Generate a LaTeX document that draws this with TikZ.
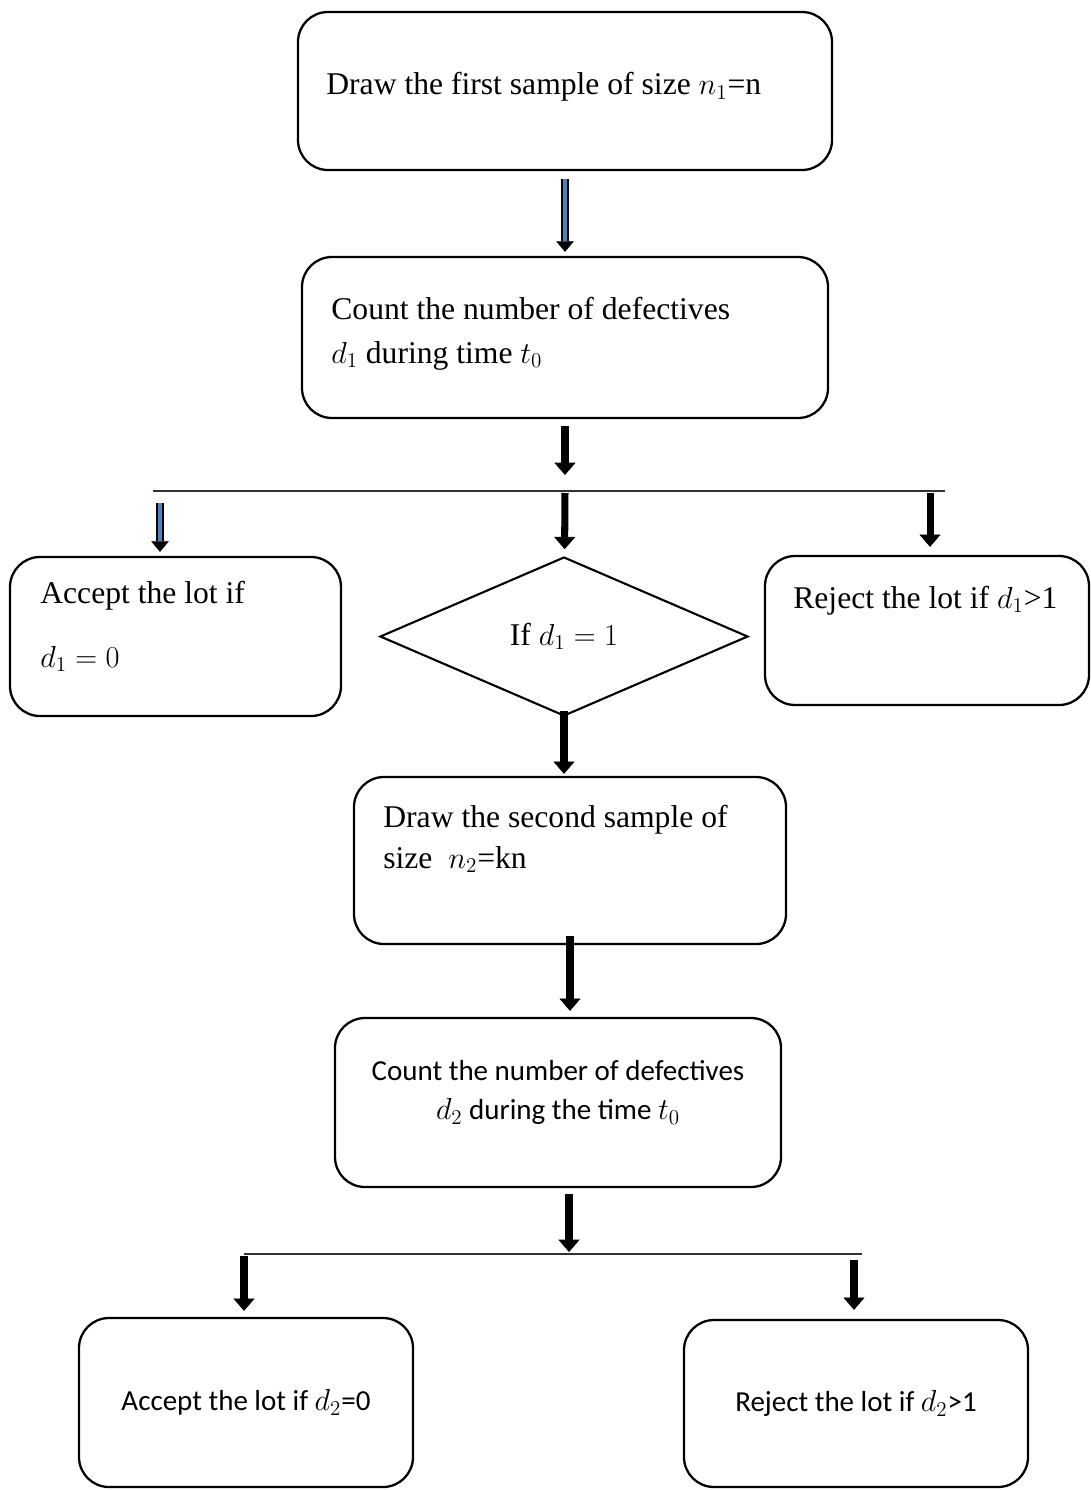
\documentclass[tikz,border=0pt]{standalone}
\usepackage{fontspec}
\setmainfont{Liberation Serif}
\newfontfamily\calibri{Carlito}
\usepackage{xcolor}
\usetikzlibrary{arrows.meta,shapes.geometric}
\newdimen\pxu \pxu=0.02cm
\definecolor{shaftblue}{RGB}{79,129,189}

\begin{document}
\begin{tikzpicture}[x=\pxu,y=-\pxu,
    block/.style={draw,line width=1.3pt,rounded corners=0.6cm,inner sep=0pt},
    lowblock/.style={block,font=\calibri\fontsize{16.5}{22}\selectfont,align=center},
    decision/.style={draw,diamond,line width=1.2pt,inner sep=0pt,font=\fontsize{18}{23}\selectfont},
    boxtext/.style={anchor=base west,align=left,inner sep=0pt,font=\fontsize{18}{23}\selectfont},
    arrow/.style={line width=4pt,-{Triangle[width=12pt,length=7pt,line width=0.4pt]}},
    bluearrow/.style={draw=black,line width=1pt,double=shaftblue,double distance=2pt,
                      -{Triangle[width=10pt,length=6pt,line width=0.4pt]}},
    branch/.style={line width=0.9pt,draw=black!80}
  ]
    \useasboundingbox (0,0) rectangle (1091,1490);
    % boxes
    \node[block,minimum width=534\pxu,minimum height=158\pxu] (first) at (565,91) {};
    \node[block,minimum width=526\pxu,minimum height=161\pxu] (count1) at (565,337.5) {};
    \node[block,minimum width=331\pxu,minimum height=159\pxu] (accept1) at (175.5,636.5) {};
    \node[decision,minimum width=368\pxu,minimum height=159\pxu] (test) at (564,636.5) {If $d_1 = 1$};
    \node[block,minimum width=324\pxu,minimum height=149\pxu] (reject1) at (927,630.5) {};
    \node[block,minimum width=432\pxu,minimum height=167\pxu] (second) at (570,860.5) {};
    \node[lowblock,minimum width=446\pxu,minimum height=169\pxu,text depth=14pt] (count2) at (558,1102.5)
      {Count the number of defectives\\ $d_2$ during the time $t_0$};
    \node[lowblock,minimum width=334\pxu,minimum height=169\pxu] (accept2) at (246,1402.5)
      {Accept the lot if $d_2$=0};
    \node[lowblock,minimum width=344\pxu,minimum height=167\pxu] (reject2) at (856,1403.5)
      {Reject the lot if $d_2$>1};
    % box texts (base = last line)
    \node[boxtext] (firsttext) at (326,95) {Draw the first sample of size $n_1$=n};
    \node[boxtext] (count1text) at (331,363) {Count the number of defectives\\[2pt] $d_1$ during time $t_0$};
    \node[boxtext] (accept1text) at (40,667) {Accept the lot if\\[13pt] $d_1 = 0$};
    \node[boxtext] (reject1text) at (793,608) {Reject the lot if $d_1$>1};
    \node[boxtext] (secondtext) at (383,868) {Draw the second sample of\\ size \ $n_2$=kn};
    % forks
    \coordinate (fork1) at (565,491);
    \coordinate (fork1l) at (153,491);
    \coordinate (fork1r) at (945,491);
    \coordinate (left1) at (160,491);
    \coordinate (right1) at (930,491);
    \coordinate (fork2) at (569,1254);
    \coordinate (fork2l) at (244,1254);
    \coordinate (fork2r) at (862,1254);
    \coordinate (right2) at (854,1254);
    \draw[branch] (fork1l) -- (fork1r);
    \draw[branch] (fork2l) -- (fork2r);
    % connectors
    \draw[bluearrow,shorten <=8\pxu,shorten >=4\pxu] (first) -- (count1);
    \draw[arrow,shorten <=7\pxu,shorten >=16\pxu] (count1) -- (fork1);
    \draw[bluearrow,shorten <=12\pxu,shorten >=4\pxu] (left1) -- (left1 |- accept1.north);
    \draw[arrow,shorten <=2\pxu,shorten >=7\pxu] (fork1) -- (test);
    \draw[arrow,shorten <=2\pxu,shorten >=8\pxu] (right1) -- (right1 |- reject1.north);
    \draw[arrow,shorten <=-6\pxu,shorten >=2\pxu] (test.south) -- (test.south |- second.north);
    \draw[arrow,shorten <=-9\pxu,shorten >=6\pxu] (second.south) -- (second.south |- count2.north);
    \draw[arrow,shorten <=6\pxu,shorten >=2\pxu] (count2.south -| fork2) -- (fork2);
    \draw[arrow,shorten <=2\pxu,shorten >=6\pxu] (fork2l) -- (fork2l |- accept2.north);
    \draw[arrow,shorten <=6\pxu,shorten >=9\pxu] (right2) -- (right2 |- reject2.north);
  \end{tikzpicture}
\end{document}
